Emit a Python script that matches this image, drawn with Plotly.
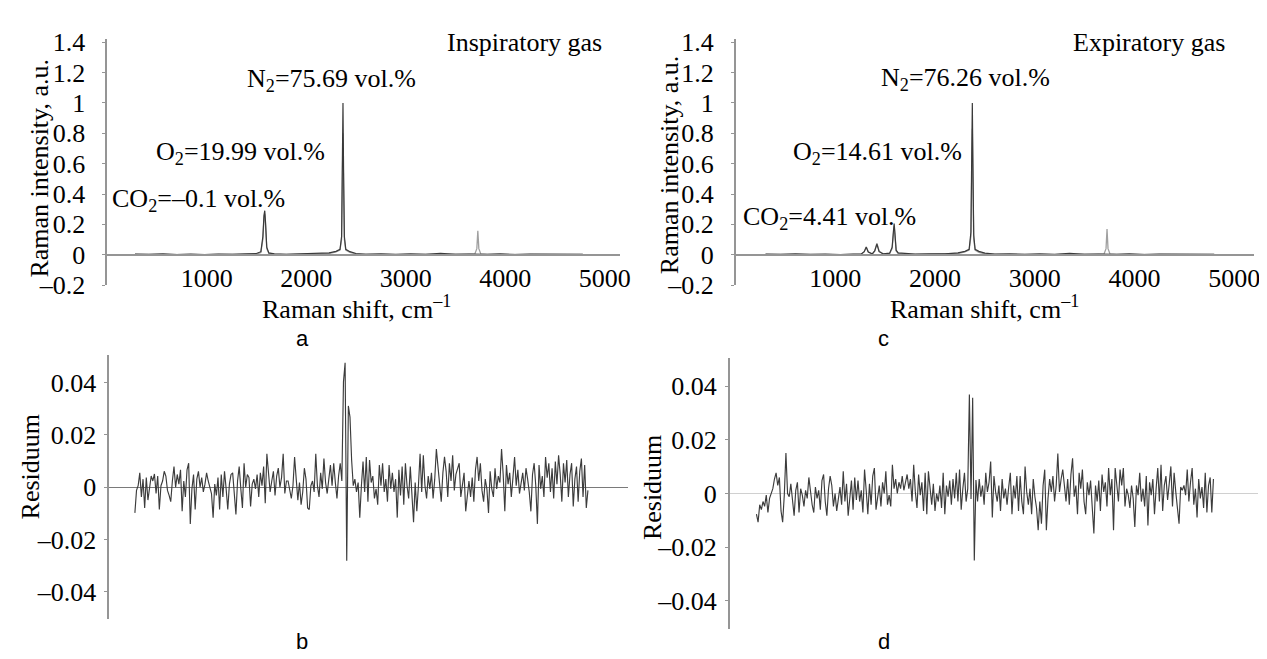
import plotly.graph_objects as go

# ---------------- data ----------------
tick_x = [1000, 2000, 3000, 4000, 5000]
tick_top_vals = [-0.2, 0, 0.2, 0.4, 0.6, 0.8, 1.0, 1.2, 1.4]
tick_top_text = ["–0.2", "0", "0.2", "0.4", "0.6", "0.8", "1", "1.2", "1.4"]
tick_res_vals = [-0.04, -0.02, 0, 0.02, 0.04]
tick_res_text = ["–0.04", "–0.02", "0", "0.02", "0.04"]

# (a) inspiratory gas spectrum, Raman shift (cm-1) / intensity (a.u.)
spec_a_x = [280, 420, 560, 700, 840, 980, 1120, 1260, 1400, 1500,
            1545, 1565, 1576, 1584, 1592, 1604, 1625, 1680, 1800, 1950,
            2100, 2230, 2300, 2340, 2356, 2364, 2370, 2376, 2384, 2398,
            2440, 2500, 2600, 2750, 2900, 3050, 3200, 3350, 3500, 3640,
            3695, 3715, 3725, 3735, 3755, 3820, 3950, 4100, 4250, 4400,
            4550, 4700, 4780]
spec_a_meas = [0.004, 0.002, 0.005, 0.001, 0.004, 0.000, 0.004, 0.002, 0.005, 0.008,
               0.02, 0.12, 0.26, 0.29, 0.21, 0.05, 0.012, 0.006, 0.003, 0.006,
               0.005, 0.012, 0.022, 0.035, 0.12, 0.62, 1.0, 0.55, 0.12, 0.035,
               0.02, 0.008, 0.003, 0.005, 0.002, 0.006, 0.003, 0.009, 0.002, 0.004,
               0.003, 0.005, 0.006, 0.005, 0.003, 0.002, 0.005, 0.001, 0.004, 0.003,
               0.002, 0.004, 0.003]
spec_a_fit = [0.002, 0.001, 0.002, 0.001, 0.002, 0.001, 0.002, 0.001, 0.002, 0.004,
              0.015, 0.10, 0.24, 0.27, 0.19, 0.04, 0.008, 0.003, 0.002, 0.003,
              0.003, 0.008, 0.018, 0.03, 0.10, 0.52, 0.80, 0.45, 0.10, 0.03,
              0.015, 0.005, 0.002, 0.002, 0.001, 0.002, 0.001, 0.003, 0.002, 0.003,
              0.005, 0.04, 0.158, 0.04, 0.005, 0.002, 0.002, 0.001, 0.002, 0.001,
              0.002, 0.001, 0.002]

# (c) expiratory gas spectrum
spec_c_x = [300, 450, 600, 750, 900, 1050, 1180,
            1260, 1290, 1310, 1330, 1370, 1395, 1417, 1439, 1480,
            1545, 1570, 1582, 1590, 1598, 1610, 1630, 1690, 1800, 1950,
            2100, 2230, 2300, 2342, 2360, 2368, 2374, 2380, 2388, 2402,
            2440, 2500, 2600, 2750, 2900, 3050, 3200, 3350, 3500, 3640,
            3695, 3715, 3725, 3735, 3755, 3820, 3950, 4100, 4250, 4400,
            4550, 4700, 4800]
spec_c_meas = [0.004, 0.002, 0.006, 0.002, 0.004, 0.001, 0.004,
               0.005, 0.02, 0.05, 0.018, 0.006, 0.025, 0.07, 0.02, 0.006,
               0.01, 0.05, 0.15, 0.206, 0.14, 0.03, 0.012, 0.008, 0.004, 0.006,
               0.005, 0.012, 0.022, 0.035, 0.15, 0.65, 1.0, 0.6, 0.13, 0.035,
               0.022, 0.01, 0.004, 0.005, 0.002, 0.006, 0.003, 0.009, 0.002, 0.004,
               0.003, 0.005, 0.006, 0.005, 0.003, 0.002, 0.005, 0.001, 0.004, 0.003,
               0.002, 0.004, 0.003]
spec_c_fit = [0.002, 0.001, 0.002, 0.001, 0.002, 0.001, 0.002,
              0.003, 0.02, 0.053, 0.02, 0.003, 0.025, 0.076, 0.025, 0.004,
              0.008, 0.04, 0.13, 0.19, 0.12, 0.025, 0.008, 0.004, 0.002, 0.003,
              0.003, 0.008, 0.018, 0.03, 0.12, 0.55, 0.83, 0.5, 0.1, 0.03,
              0.015, 0.006, 0.002, 0.002, 0.001, 0.002, 0.001, 0.003, 0.002, 0.003,
              0.005, 0.04, 0.17, 0.04, 0.005, 0.002, 0.002, 0.001, 0.002, 0.001,
              0.002, 0.001, 0.002]

# (b) residuum of the inspiratory fit, in units of 1e-3
resid_b_milli = [
    -9.8, -1.2, 0.6, 5.5, -3.7, 3.1, -7.9, 3.7, -4.9, 0.6, 4.3, 2.4, 5.1, -2.4, 4.3, -8.5, 0.6, 2.4,
    6.1, 4.3, -1.2, -3.1, -5.5, 2.4, 7.9, 0.0, 4.9, 1.2, 6.7, -9.2, 2.4, -3.7, 6.7, 9.2, -14.0, -0.6,
    4.9, -8.5, 3.1, 6.1, 0.0, 3.7, -1.8, 1.2, 5.5, 2.4, -0.6, -2.4, -11.6, 1.2, -3.1, 3.7, -8.5, 4.9,
    -3.7, 6.1, -0.6, -8.5, 1.2, 4.9, 5.5, -1.2, -10.4, 2.4, 7.9, -0.6, -7.9, 9.2, 0.0, 4.9, 3.7, -7.3,
    1.2, 3.1, -0.6, 4.9, -3.7, 5.5, 0.6, 7.9, -6.1, 12.8, 6.1, -1.8, 2.4, 6.1, -3.1, 4.3, 7.3, 0.0,
    3.7, 12.8, -2.4, 2.4,
    2.4, -1.8, -4.3, 0.6, 11.6, 3.1, -4.9, 1.8, -6.7, -1.8, 7.3, 3.1, -7.9, -8.5, 0.6, 2.4, -1.8, 12.8,
    0.6, -3.7, 5.5, -0.6, 11.0, 1.8, -2.4, 3.1, 8.5, 0.6, 9.2, 1.8, -4.3, 4.3, 9.2, 2.4, 40.3, 47.6,
    -28.1, 31.1, 26.8, 10.4, 0.6, 3.1, -1.8, 1.8, -11.6, 0.6, 9.8, -1.8, 11.6, -5.5, 10.4, 1.8, 4.3,
    -4.3, -0.6, -6.7, 8.5, 0.6, 9.2, -1.8, 3.1, -5.5, 8.5, -0.6, 5.5, -1.8, 3.1, -11.6, 6.7, -3.1, 7.9,
    -6.7, 9.2, 0.6, -4.3, 7.9, -1.8, -13.4, 1.8, -9.2, 0.6, 12.8, -1.8, 12.2, 0.6, -4.3, 4.3, -0.6,
    5.5, -4.3, 3.1, 14.6, 7.9, 1.8, -5.5, 5.5, 11.6,
    6.1, -3.7, 9.2, 2.4, 12.2, -1.2, 4.9, 7.3, 9.2, -3.7, 1.2, 5.5, -9.2, -1.8, 2.4, -3.7, 3.7, -5.5,
    6.7, 11.6, 2.4, 9.2, -1.2, -5.5, 3.1, -0.6, -9.8, 6.1, -0.6, -3.7, 7.3, -0.6, 4.3, 1.8, 14.6, 4.9,
    -9.2, 8.5, 1.2, 5.5, -3.7, 3.7, 11.6, 0.6, 6.7, -2.4, 1.8, 5.5, -1.2, 7.3, 3.1, -1.8, -9.2, 4.9,
    9.2, 0.6, -14.0, 8.5, -0.6, 4.3, -3.7, 11.6, 3.7, 9.2, -1.8, 7.3, -4.3, 9.8, 1.2, 12.2, 4.9, -5.5,
    9.2, 1.8, 10.4, -3.7, 4.9, 9.2, -7.3, 3.1, 7.9, -5.5, 6.1, 11.0, -3.7, 8.5, -7.9, -1.2]

# (d) residuum of the expiratory fit, in units of 1e-3
resid_d_milli = [
    -7.7, -10.7, -4.2, -6.0, -3.0, -4.8, -0.6, -7.1, -1.8, 0.0, 1.8, 5.4, 7.7, 3.0, 6.0, -6.5, -10.7,
    -0.6, 15.1, 0.0, -1.2, 3.6, -3.0, -8.3, 1.2, 4.2, -7.1, 1.8, -0.6, -4.8, 1.2, -1.8, 6.0, -0.6, -4.2,
    -7.1, 2.4, -1.8, 1.2, -6.0, 4.8, 7.1, -3.0, -8.3, 1.8, 6.5, 3.0, -4.8, 0.0, -6.5, -1.8, 2.4, -4.2,
    8.3, -3.0, 3.6, -8.3, 0.0, 4.8, -6.0, 6.0, -2.4, 4.8, -3.0, 1.2, -7.1, 8.9, 1.2, -7.7, 3.6, -4.2,
    6.5, 9.5, -6.0, -1.2, 3.0, -4.8, 4.2, 0.0, 8.3, -4.2, -0.6, -4.8, 10.7, 1.8, 5.4, 0.0, 4.2, 1.8,
    6.5, 1.2, 3.6, 7.1, 1.8,
    5.4, -3.0, 10.7, 0.6, -5.4, 7.1, -0.6, 4.2, -6.5, 7.7, -7.7, 8.3, 0.6, -4.2, 3.6, -6.5, 0.0, -3.0,
    3.0, -5.4, 7.7, -7.7, 3.0, -1.2, 4.8, -4.2, 5.4, -1.8, 7.7, -3.0, 8.9, -6.0, 1.8, 7.7, -3.0, 1.8,
    36.9, -2.0, 35.7, -25.0, 5.0, -3.0, 5.4, -1.2, 3.0, -4.2, 7.7, 0.6, 4.2, 11.9, -8.9, 6.5, 0.6, -3.0,
    3.0, -6.5, 5.4, -1.8, 1.8, -4.2, 2.4, 7.7, -7.7, 3.0, -1.8, 6.5, -6.5, 6.5, -3.0, -7.7, 10.1, 0.6,
    -4.2, 1.8, -7.7, 5.4, -1.2, -5.4, -13.7, -3.0, -11.3, 3.0, 8.9, -13.7, -1.8, 5.4, 0.6, 6.5, -3.0,
    3.0, 14.9, 0.6, 5.4, 8.9, 3.0,
    -3.0, 5.4, -4.2, 7.1, 13.1, -1.2, 3.0, -7.7, 7.7, 1.8, 8.9, -3.0, -7.7, 4.2, -0.6, 4.8, -4.2, -14.9,
    3.0, -3.0, 4.8, -6.5, 7.1, 0.6, 4.2, -4.8, 9.5, -0.6, 5.4, -13.7, 9.5, 1.8, -3.0, 8.9, 3.0, 9.5,
    -4.8, 1.8, -0.6, -5.4, 3.0, -1.8, -12.5, 3.0, -0.6, 7.7, -3.0, 1.8, -4.8, 6.5, -11.9, 4.2, -0.6,
    5.4, -7.7, 1.8, 9.5, -3.0, 10.7, -6.5, 3.0, 6.5, -2.4, 3.6, 10.1, -4.8, 7.7, 0.6, -5.4, -11.3, 2.4,
    1.2, 3.0, -0.6, 8.9, -3.0, 4.2, 9.5, -4.2, 1.8, -8.9, 5.4, -1.8, 2.4, -5.4, 7.7, -7.1, 3.0, 6.0,
    -7.1, 5.4]

resid_b = [v / 1000 for v in resid_b_milli]
resid_d = [v / 1000 for v in resid_d_milli]

# ---------------- layout helpers ----------------
W, H = 1267, 659
SERIF = "Liberation Serif, Times New Roman, serif"
SANS = "Liberation Sans, Arial, sans-serif"
AXC = "#959595"


def fx(p):
    return p / W


def fy(p):
    return 1 - p / H


# pixel boxes: (left, right, top, bottom)
box_a = (100, 617, 21, 277)
box_c = (734, 1257, 21, 277)
box_b = (102, 625, 350, 625)
box_d = (728, 1261, 353, 635)
top_yrange = [-0.2, 1.42]
res_yrange = [-0.0505, 0.0505]

fig = go.Figure()

# spectra
fig.add_trace(go.Scatter(x=spec_a_x, y=spec_a_fit, mode="lines", xaxis="x", yaxis="y",
                         line=dict(color="#a0a0a0", width=1.3), showlegend=False))
fig.add_trace(go.Scatter(x=spec_a_x, y=spec_a_meas, mode="lines", xaxis="x", yaxis="y",
                         line=dict(color="#3a3a3a", width=1.2), showlegend=False))
fig.add_trace(go.Scatter(x=spec_c_x, y=spec_c_fit, mode="lines", xaxis="x2", yaxis="y2",
                         line=dict(color="#a0a0a0", width=1.3), showlegend=False))
fig.add_trace(go.Scatter(x=spec_c_x, y=spec_c_meas, mode="lines", xaxis="x2", yaxis="y2",
                         line=dict(color="#3a3a3a", width=1.2), showlegend=False))

# residuals
fig.add_trace(go.Scatter(x=list(range(len(resid_b))), y=resid_b, mode="lines", xaxis="x3", yaxis="y3",
                         line=dict(color="#3c3c3c", width=1.15), showlegend=False))
fig.add_trace(go.Scatter(x=list(range(len(resid_d))), y=resid_d, mode="lines", xaxis="x4", yaxis="y4",
                         line=dict(color="#3c3c3c", width=1.15), showlegend=False))


def y_at_zero(box, yr):
    left, right, top, bottom = box
    p = bottom - (0 - yr[0]) / (yr[1] - yr[0]) * (bottom - top)
    return fy(p)


def res_xrange(box, n, first_px, last_px):
    left, right, top, bottom = box
    ppi = (last_px - first_px) / (n - 1)
    return [-(first_px - left) / ppi, (n - 1) + (right - last_px) / ppi]


tickfont = dict(family=SERIF, size=26, color="black")

top_x_common = dict(showline=True, linecolor=AXC, linewidth=1.5, showgrid=False, zeroline=False,
                    tickvals=tick_x, ticks="", tickfont=tickfont, anchor="free")
top_y_common = dict(range=top_yrange, showline=True, linecolor=AXC, linewidth=1.5, showgrid=False,
                    zeroline=False, tickvals=tick_top_vals, ticktext=tick_top_text,
                    ticks="outside", ticklen=3, tickcolor=AXC, tickfont=tickfont,
                    ticklabelstandoff=12)
res_y_common = dict(range=res_yrange, showline=True, linecolor=AXC, linewidth=1.5, showgrid=False,
                    zeroline=True, tickvals=tick_res_vals, ticktext=tick_res_text,
                    ticks="outside", ticklen=3, tickcolor=AXC, tickfont=tickfont,
                    ticklabelstandoff=3)
res_x_common = dict(showline=False, showgrid=False, zeroline=False, showticklabels=False, ticks="")

fig.update_layout(
    width=W, height=H, margin=dict(l=0, r=0, t=0, b=0),
    paper_bgcolor="white", plot_bgcolor="white",
    xaxis=dict(domain=[fx(box_a[0]), fx(box_a[1])], range=[0, 5150],
               position=y_at_zero(box_a, top_yrange), **top_x_common),
    yaxis=dict(domain=[fy(box_a[3]), fy(box_a[2])], anchor="x", **top_y_common),
    xaxis2=dict(domain=[fx(box_c[0]), fx(box_c[1])], range=[0, 5200],
                position=y_at_zero(box_c, top_yrange), **top_x_common),
    yaxis2=dict(domain=[fy(box_c[3]), fy(box_c[2])], anchor="x2", **top_y_common),
    xaxis3=dict(domain=[fx(box_b[0]), fx(box_b[1])],
                range=res_xrange(box_b, len(resid_b), 128, 585), anchor="y3", **res_x_common),
    yaxis3=dict(domain=[fy(box_b[3]), fy(box_b[2])], anchor="x3",
                zerolinecolor="#7a7a7a", zerolinewidth=1.3, **res_y_common),
    xaxis4=dict(domain=[fx(box_d[0]), fx(box_d[1])],
                range=res_xrange(box_d, len(resid_d), 755, 1216), anchor="y4", **res_x_common),
    yaxis4=dict(domain=[fy(box_d[3]), fy(box_d[2])], anchor="x4",
                zerolinecolor="#d0d0d0", zerolinewidth=1, **res_y_common),
)

serif_font = dict(family=SERIF, size=26, color="black")
ann = []
# peak labels (data coordinates of each top panel)
ann += [
    dict(x=2256, y=1.154, xref="x", yref="y", text="N<sub>2</sub>=75.69 vol.%"),
    dict(x=1345, y=0.667, xref="x", yref="y", text="O<sub>2</sub>=19.99 vol.%"),
    dict(x=921, y=0.363, xref="x", yref="y", text="CO<sub>2</sub>=–0.1 vol.%"),
    dict(x=4198, y=1.395, xref="x", yref="y", text="Inspiratory gas"),
    dict(x=2306, y=1.155, xref="x2", yref="y2", text="N<sub>2</sub>=76.26 vol.%"),
    dict(x=1421, y=0.667, xref="x2", yref="y2", text="O<sub>2</sub>=14.61 vol.%"),
    dict(x=944, y=0.243, xref="x2", yref="y2", text="CO<sub>2</sub>=4.41 vol.%"),
    dict(x=4145, y=1.395, xref="x2", yref="y2", text="Expiratory gas"),
]
for a in ann:
    a.update(showarrow=False, font=serif_font, xanchor="center", yanchor="middle")

# axis titles
titles = [
    (32, 155, "Raman intensity, a.u.", -90),
    (667, 152, "Raman intensity, a.u.", -90),
    (352, 300, "Raman shift, cm<sup>–1</sup>", 0),
    (985, 300, "Raman shift, cm<sup>–1</sup>", 0),
    (23, 466, "Residuum", -90),
    (650, 488, "Residuum", -90),
]
for x, y, t, ang in titles:
    ann.append(dict(x=fx(x), y=fy(y), xref="paper", yref="paper", text=t, textangle=ang,
                    showarrow=False, font=serif_font, xanchor="center", yanchor="middle"))

# panel letters
for x, y, t in [(297, 333, "a"), (297, 648, "b"), (883, 333, "c"), (884, 648, "d")]:
    ann.append(dict(x=fx(x), y=fy(y), xref="paper", yref="paper", text=t, showarrow=False,
                    font=dict(family=SANS, size=22, color="black"),
                    xanchor="center", yanchor="middle"))

fig.update_layout(annotations=ann)
fig.write_html("out.html")
